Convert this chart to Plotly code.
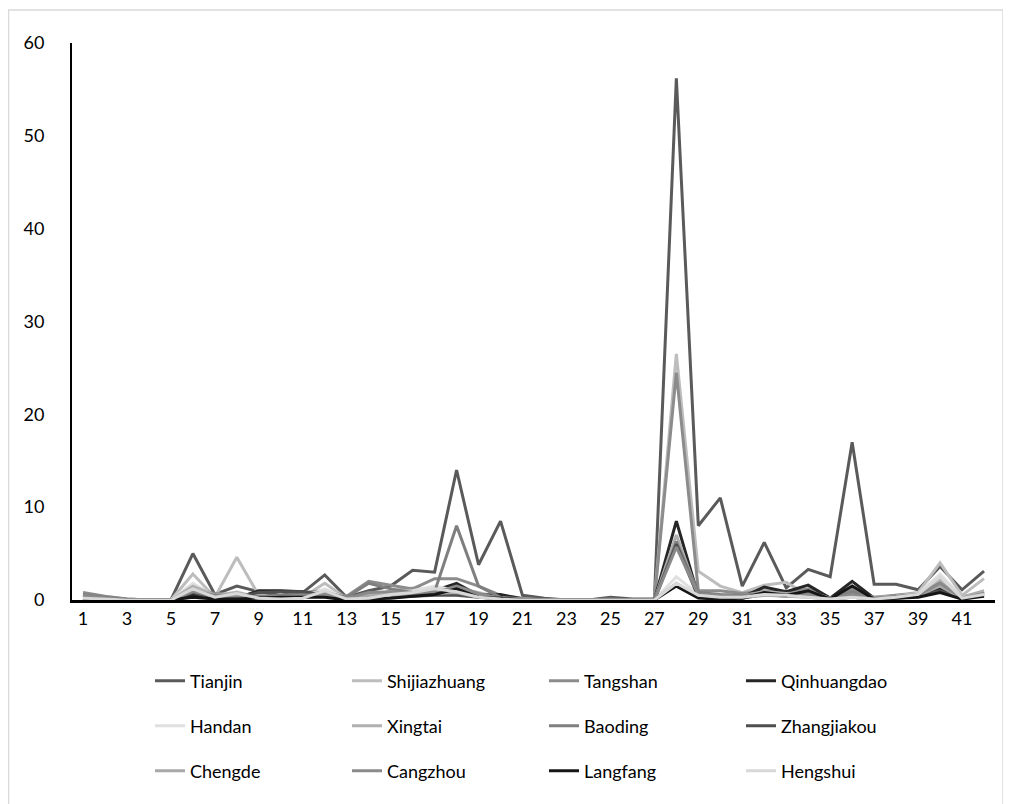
import plotly.graph_objects as go

days = list(range(1, 43))
tick_labels = [str(d) for d in range(1, 43, 2)]

cities = ["Tianjin", "Shijiazhuang", "Tangshan", "Qinhuangdao",
          "Handan", "Xingtai", "Baoding", "Zhangjiakou",
          "Chengde", "Cangzhou", "Langfang", "Hengshui"]

tianjin = [0.5, 0.2, 0, 0, 0, 5.0, 0.6, 1.5, 0.9, 0.5, 0.8, 2.7, 0.3, 1.0, 1.5, 3.2, 3.0, 14.0, 3.8, 8.5, 0.5,
           0.2, 0, 0, 0.3, 0.1, 0.1, 56.2, 8.0, 11.0, 1.5, 6.2, 1.3, 3.3, 2.5, 17.0, 1.7, 1.7, 1.1, 3.6, 1.1, 3.1]
shijiazhuang = [0.3, 0.1, 0, 0, 0, 2.8, 0.3, 4.6, 0.5, 0.2, 0.3, 1.8, 0.2, 0.3, 1.0, 1.3, 1.0, 1.3, 0.8, 0.3, 0.1,
                0, 0, 0, 0, 0, 0, 26.5, 3.1, 1.5, 0.8, 1.6, 1.9, 0.5, 0.2, 0.5, 0.2, 0.5, 0.8, 4.0, 0.5, 2.3]
tangshan = [0.8, 0.4, 0.1, 0, 0, 1.2, 0.7, 0.6, 0.3, 0.4, 0.8, 1.0, 0.4, 2.0, 1.6, 1.2, 2.3, 2.3, 1.5, 0.5, 0.2,
            0, 0, 0, 0, 0, 0, 24.5, 1.0, 1.0, 0.7, 1.0, 0.8, 1.2, 0.2, 1.2, 0.3, 0.5, 0.7, 2.0, 0.3, 0.9]
qinhuangdao = [0.2, 0, 0, 0, 0, 0.6, 0.1, 0.2, 1.0, 1.0, 0.9, 0.5, 0.1, 0.1, 0.4, 0.6, 1.0, 1.8, 0.5, 0.6, 0.1,
               0, 0, 0, 0, 0, 0, 8.5, 0.4, 0.2, 0.3, 1.4, 0.9, 1.6, 0.2, 2.0, 0.2, 0.3, 0.5, 1.2, 0.2, 0.8]
handan = [0.2, 0.1, 0, 0, 0, 1.8, 0.4, 0.9, 0.2, 0.2, 0.3, 1.2, 0.2, 0.3, 0.8, 1.0, 1.5, 1.0, 0.4, 0.2, 0.1,
          0, 0, 0, 0, 0, 0, 2.5, 0.6, 0.3, 0.4, 0.8, 0.6, 0.4, 0.1, 0.4, 0.2, 0.4, 0.7, 2.8, 0.3, 0.8]
xingtai = [0.4, 0.2, 0, 0, 0, 1.5, 0.5, 0.8, 0.3, 0.3, 0.4, 0.9, 0.2, 0.6, 0.7, 0.8, 1.0, 1.2, 0.6, 0.2, 0.1,
           0, 0, 0, 0, 0, 0, 7.0, 0.5, 0.4, 0.5, 0.9, 0.7, 0.8, 0.2, 0.8, 0.3, 0.4, 0.6, 2.2, 0.3, 1.0]
baoding = [0.6, 0.3, 0.1, 0, 0, 1.0, 0.5, 0.5, 0.4, 0.5, 0.6, 0.8, 0.3, 1.8, 1.2, 0.8, 0.9, 8.0, 1.5, 0.3, 0.1,
           0, 0, 0, 0.1, 0, 0, 6.3, 0.8, 0.6, 0.5, 0.7, 0.6, 0.9, 0.2, 0.9, 0.2, 0.4, 0.6, 1.8, 0.2, 0.7]
zhangjiakou = [0.1, 0, 0, 0, 0, 0.8, 0.2, 0.3, 0.8, 0.9, 0.9, 0.5, 0.1, 0.2, 0.3, 0.4, 0.5, 0.5, 0.3, 0.2, 0,
               0, 0, 0, 0, 0, 0, 6.0, 0.3, 0.5, 0.2, 0.6, 0.4, 0.5, 0.1, 0.3, 0.1, 0.2, 0.4, 1.0, 0.1, 0.5]
chengde = [0.2, 0.1, 0, 0, 0, 1.1, 0.3, 0.6, 0.2, 0.2, 0.3, 0.7, 0.1, 0.4, 0.5, 0.6, 0.7, 0.8, 0.3, 0.1, 0,
           0, 0, 0, 0, 0, 0, 1.8, 0.4, 0.3, 0.3, 0.5, 0.4, 0.3, 0.1, 0.3, 0.1, 0.3, 0.5, 1.5, 0.2, 0.6]
cangzhou = [0.5, 0.2, 0, 0, 0, 0.9, 0.4, 0.4, 0.3, 0.3, 0.5, 0.6, 0.2, 0.8, 0.9, 0.7, 0.8, 1.5, 0.7, 0.2, 0.1,
            0, 0, 0, 0, 0, 0, 5.7, 0.6, 0.5, 0.4, 0.6, 0.5, 0.6, 0.1, 0.6, 0.2, 0.3, 0.5, 1.8, 0.2, 0.6]
langfang = [0.1, 0, 0, 0, 0, 0.3, 0.1, 0.1, 0.2, 0.3, 0.3, 0.3, 0, 0.1, 0.2, 0.4, 0.6, 1.2, 0.3, 0.2, 0,
            0, 0, 0, 0, 0, 0, 1.5, 0.2, 0.1, 0.2, 0.8, 0.5, 1.0, 0.1, 1.5, 0.1, 0.2, 0.3, 0.8, 0.1, 0.4]
hengshui = [0.2, 0.1, 0, 0, 0, 1.2, 0.3, 0.7, 0.2, 0.1, 0.2, 1.0, 0.1, 0.2, 0.6, 0.8, 1.2, 0.9, 0.3, 0.1, 0,
            0, 0, 0, 0, 0, 0, 1.8, 0.5, 0.3, 0.3, 0.6, 0.5, 0.3, 0.1, 0.3, 0.1, 0.3, 0.6, 2.5, 0.2, 0.6]

series = [tianjin, shijiazhuang, tangshan, qinhuangdao, handan, xingtai,
          baoding, zhangjiakou, chengde, cangzhou, langfang, hengshui]

colors = ["#5a5a5a", "#bdbdbd", "#8c8c8c", "#262626",
          "#e0e0e0", "#b0b0b0", "#7f7f7f", "#4f4f4f",
          "#a8a8a8", "#8a8a8a", "#161616", "#d8d8d8"]

FONT = "Lato"
fig = go.Figure()
legend_ids = ["legend", "legend2", "legend3"]
for i, (name, vals) in enumerate(zip(cities, series)):
    fig.add_trace(go.Scatter(
        x=days, y=vals, name=name, mode="lines",
        line=dict(color=colors[i], width=3),
        legend=legend_ids[i // 4],
    ))

ML, MR, MT, MB = 64, 24, 35, 212
W, H = 1011, 804
pw = W - ML - MR
ph = H - MT - MB
plot_bot = H - MB

def py2paper(py):
    return (plot_bot - py) / ph

def px2paper(px):
    return (px - ML) / pw

row_y = [673, 718, 763]
leg_common = dict(orientation="h", xanchor="left", x=px2paper(142), yanchor="middle",
                  entrywidth=152, entrywidthmode="pixels",
                  font=dict(family=FONT, size=18, color="#000000"),
                  bgcolor="rgba(0,0,0,0)", traceorder="normal")

fig.update_layout(
    width=W, height=H,
    margin=dict(l=ML, r=MR, t=MT, b=MB),
    paper_bgcolor="white", plot_bgcolor="white",
    font=dict(family=FONT, size=18, color="#000000"),
    xaxis=dict(range=[0.5, 42.5], tickmode="array",
               tickvals=list(range(1, 43, 2)), ticktext=tick_labels,
               showgrid=False, zeroline=False, showline=True,
               linecolor="#000000", linewidth=3, ticks="",
               tickfont=dict(family=FONT, size=18, color="#000000")),
    yaxis=dict(range=[0, 60], tickmode="array", tickvals=[0, 10, 20, 30, 40, 50, 60],
               showgrid=False, zeroline=False, showline=True,
               linecolor="#000000", linewidth=2, ticks="",
               ticklabelstandoff=22,
               tickfont=dict(family=FONT, size=18, color="#000000")),
    legend=dict(y=py2paper(row_y[0]), **leg_common),
    legend2=dict(y=py2paper(row_y[1]), **leg_common),
    legend3=dict(y=py2paper(row_y[2]), **leg_common),
    showlegend=True,
)

# chart-area border
fig.add_shape(type="rect", xref="paper", yref="paper",
              x0=px2paper(0.5), x1=px2paper(995),
              y0=py2paper(803), y1=py2paper(2),
              line=dict(color="#d9d9d9", width=1.5), layer="below")

fig.write_html("out.html")
